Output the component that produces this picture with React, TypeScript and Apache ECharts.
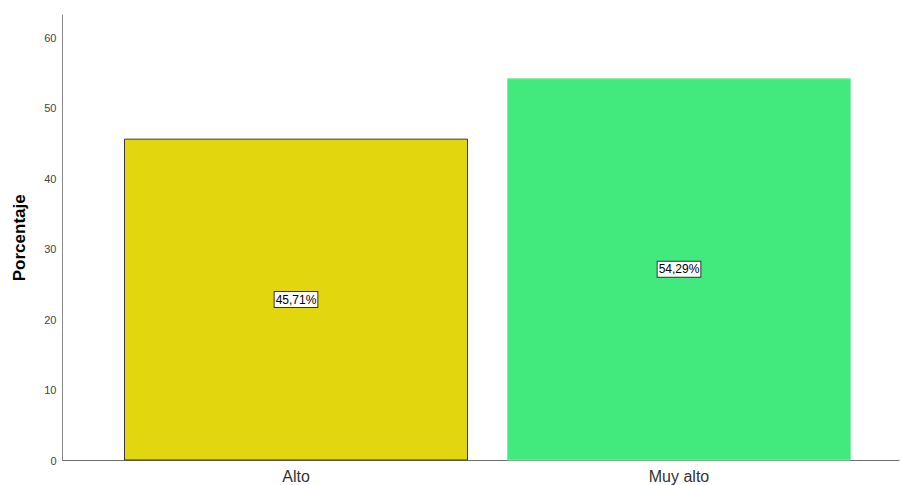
import React, { useEffect, useRef } from "react";
import * as echarts from "echarts";

const categories = ["Alto", "Muy alto"];
const values = [45.71, 54.29];
const barColors = ["#e2d70e", "#42ea7e"];
const borderColors = ["#3a3a3a", "#86eeaa"];
const yTicks = [0, 10, 20, 30, 40, 50, 60];

export default function App() {
  const ref = useRef<HTMLDivElement>(null);
  useEffect(() => {
    if (!ref.current) return;
    const chart = echarts.init(ref.current, undefined, { renderer: "svg" });
    const font = "Liberation Sans, Arial, sans-serif";
    const yMax = 63.27;
    chart.setOption({
      animation: false,
      backgroundColor: "#ffffff",
      textStyle: { fontFamily: font },
      grid: [
        { left: 62.5, right: 1, top: 15, bottom: 24.5 },
        { left: 104.5, width: 766, top: 15, bottom: 24.5 },
      ],
      xAxis: [
        {
          type: "category",
          gridIndex: 0,
          data: ["", ""],
          axisLine: { show: true, lineStyle: { color: "#6e6e6e", width: 1 } },
          axisTick: { show: false },
          axisLabel: { show: false },
          splitLine: { show: false },
        },
        {
          type: "category",
          gridIndex: 1,
          data: categories,
          axisLine: { show: false },
          axisTick: { show: false },
          axisLabel: { color: "#333333", fontSize: 16, margin: 8, fontFamily: font },
          splitLine: { show: false },
        },
      ],
      yAxis: [
        {
          type: "value",
          gridIndex: 0,
          min: 0,
          max: yMax,
          interval: 10,
          name: "Porcentaje",
          nameLocation: "middle",
          nameGap: 35,
          nameTextStyle: { fontSize: 17, fontWeight: "bold", color: "#000000", fontFamily: font },
          axisLine: { show: true, lineStyle: { color: "#8a8a8a", width: 1 } },
          axisTick: { show: false },
          axisLabel: {
            color: "#444444",
            fontSize: 11,
            margin: 6,
            fontFamily: font,
            showMaxLabel: false,
            formatter: (v: number) => (yTicks.includes(v) ? String(v) : ""),
          },
          splitLine: { show: false },
        },
        {
          type: "value",
          gridIndex: 1,
          min: 0,
          max: yMax,
          show: false,
          splitLine: { show: false },
        },
      ],
      series: [
        {
          type: "bar",
          xAxisIndex: 1,
          yAxisIndex: 1,
          barWidth: 344,
          data: values.map((v, i) => ({
            value: v,
            itemStyle: { color: barColors[i], borderColor: borderColors[i], borderWidth: 1 },
          })),
          label: {
            show: true,
            position: "inside",
            formatter: (p: any) => values[p.dataIndex].toFixed(2).replace(".", ",") + "%",
            color: "#000000",
            fontSize: 12,
            fontFamily: font,
            backgroundColor: "#ffffff",
            borderColor: "#333333",
            borderWidth: 1,
            padding: [2, 1, 1, 1],
          },
        },
      ],
    });
    return () => chart.dispose();
  }, []);
  return (
    <div
      ref={ref}
      style={{ position: "fixed", left: 0, top: 0, width: 900, height: 485 }}
    />
  );
}
